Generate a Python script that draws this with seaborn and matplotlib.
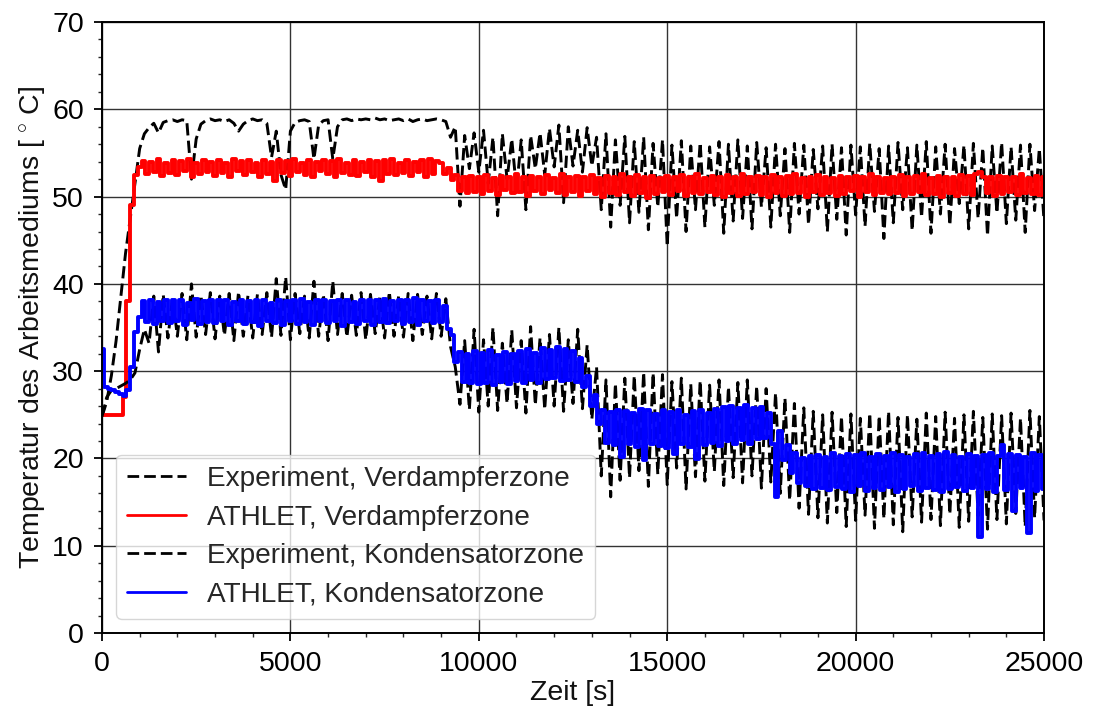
import numpy as np
import pandas as pd
import matplotlib
matplotlib.use("Agg")
import matplotlib.pyplot as plt
from matplotlib.ticker import MultipleLocator
import seaborn as sns

# ---------------- data ----------------
# Experiment series sampled every 125 s, ATHLET series every 100 s
t_exp_step = 125
t_sim_step = 100

exp_verdampfer = [
    24.8, 26.5, 29.5, 33.5, 38.5, 43.5, 47.5, 51.5,
    55.5, 57.2, 57.9, 58.4, 57.3, 58.5, 58.7, 58.8,
    58.6, 58.8, 58.7, 52.0, 56.6, 58.3, 58.7, 58.9,
    58.7, 58.8, 58.6, 58.8, 58.4, 57.5, 58.3, 58.7,
    58.9, 58.7, 58.8, 58.4, 54.5, 57.5, 52.5, 50.8,
    57.5, 58.5, 58.7, 58.8, 58.6, 54.3, 58.2, 58.7,
    58.8, 54.3, 58.0, 58.8, 58.9, 58.7, 58.9, 58.8,
    58.9, 58.8, 59.0, 58.8, 58.9, 58.7, 58.8, 58.9,
    58.7, 58.9, 58.6, 58.8, 58.9, 58.7, 58.8, 58.9,
    58.8, 58.6, 56.8, 58.0, 48.9, 57.0, 53.2, 57.3,
    52.8, 57.6, 51.5, 56.8, 47.8, 57.2, 52.0, 56.6,
    50.8, 56.5, 48.5, 57.0, 53.2, 57.3, 52.5, 57.8,
    53.4, 58.2, 49.3, 58.0, 53.5, 57.6, 52.8, 57.9,
    53.5, 56.8, 48.5, 57.2, 46.5, 56.5, 49.0, 56.9,
    47.0, 56.3, 48.2, 56.8, 46.2, 56.1, 48.8, 56.5,
    44.3, 55.9, 47.5, 56.4, 46.0, 55.8, 48.5, 56.2,
    46.5, 55.7, 49.0, 56.3, 45.8, 56.0, 47.2, 56.5,
    47.5, 55.8, 46.3, 56.2, 48.8, 55.6, 46.5, 56.0,
    47.8, 55.5, 45.9, 56.1, 48.0, 55.9, 46.8, 55.4,
    48.6, 55.8, 46.0, 56.0, 47.4, 55.6, 45.6, 55.9,
    47.9, 55.7, 46.6, 56.1, 48.3, 55.5, 45.2, 55.8,
    47.0, 56.2, 48.5, 55.6, 46.1, 55.9, 47.6, 56.3,
    45.8, 55.7, 48.0, 56.0, 46.7, 55.5, 49.2, 55.9,
    46.3, 56.1, 47.5, 55.6, 45.5, 55.8, 48.1, 56.2,
    46.9, 55.7, 47.3, 55.9, 45.9, 56.0, 48.4, 55.5,
    47.2,
]

exp_kondensator = [
    24.8, 27.0, 27.8, 28.0, 28.3, 28.6, 29.0, 29.8,
    32.5, 34.8, 33.2, 38.6, 32.2, 38.8, 33.8, 38.5,
    34.0, 38.9, 33.6, 40.0, 33.9, 38.7, 34.2, 39.0,
    33.7, 38.6, 34.1, 38.9, 33.5, 39.1, 34.0, 38.7,
    33.8, 38.8, 34.2, 39.0, 33.9, 40.6, 34.1, 40.8,
    33.6, 38.9, 34.3, 38.6, 33.8, 40.3, 34.0, 38.8,
    33.5, 40.3, 34.2, 38.9, 33.9, 38.7, 34.1, 39.0,
    33.6, 38.8, 34.3, 38.6, 33.8, 39.1, 34.0, 38.7,
    33.9, 38.9, 33.5, 38.8, 34.2, 38.6, 33.7, 38.9,
    34.0, 38.3, 32.8, 30.5, 26.2, 33.5, 25.6, 34.8,
    25.3, 33.6, 26.0, 35.0, 25.5, 33.2, 26.3, 34.7,
    25.8, 33.5, 25.2, 35.1, 26.1, 33.8, 25.6, 34.2,
    26.0, 35.0, 25.4, 33.6, 26.3, 34.8, 25.7, 33.0,
    24.5, 30.5, 18.0, 29.0, 15.6, 28.6, 17.5, 29.2,
    17.8, 29.5, 18.6, 29.9, 16.8, 29.8, 18.2, 29.6,
    17.0, 28.8, 18.9, 29.2, 16.5, 28.5, 17.9, 28.9,
    17.4, 28.4, 18.5, 29.0, 16.9, 28.2, 17.8, 28.7,
    17.2, 29.0, 18.0, 28.3, 16.6, 28.0, 17.3, 27.5,
    16.0, 26.9, 15.2, 26.3, 14.3, 25.8, 13.6, 25.4,
    13.2, 25.0, 12.6, 25.3, 13.8, 24.8, 12.2, 25.1,
    12.9, 24.6, 13.5, 25.2, 12.0, 24.9, 13.1, 25.4,
    12.4, 24.7, 11.6, 25.0, 13.3, 24.5, 12.7, 25.2,
    13.0, 24.8, 12.3, 25.3, 13.6, 24.6, 12.1, 25.0,
    12.8, 25.4, 13.4, 24.7, 11.9, 25.1, 13.0, 24.9,
    12.5, 25.2, 13.7, 24.6, 12.2, 25.5, 13.2, 24.8,
    12.9,
]

athlet_verdampfer = [
    25.0, 25.0, 25.0, 25.0, 25.0, 25.0, 27.0, 38.0, 49.0, 52.5,
    53.4, 54.1, 52.6, 54.0, 52.8, 54.3, 52.4, 53.9, 52.7, 54.2,
    52.5, 54.1, 52.9, 54.3, 52.3, 53.8, 52.6, 54.2, 52.8, 54.0,
    52.4, 54.2, 52.7, 53.9, 52.2, 54.3, 52.9, 54.1, 52.5, 54.2,
    52.8, 53.9, 52.3, 54.2, 52.6, 54.0, 51.8, 54.2, 52.7, 54.1,
    52.4, 54.3, 52.8, 53.8, 52.5, 54.2, 52.3, 54.0, 52.9, 54.2,
    52.6, 54.1, 52.2, 54.3, 52.7, 53.9, 52.5, 54.2, 52.4, 54.0,
    52.8, 54.2, 52.3, 54.1, 51.8, 54.2, 52.6, 54.3, 52.5, 53.9,
    52.7, 54.2, 52.4, 54.0, 52.8, 54.2, 52.2, 54.3, 52.6, 54.1,
    53.9, 52.6, 53.3, 51.9, 52.5, 50.6, 52.3, 50.4, 52.4, 50.5,
    52.2, 50.3, 52.5, 50.6, 52.1, 50.2, 52.4, 50.7, 52.3, 50.4,
    52.6, 50.5, 52.2, 50.1, 52.4, 50.6, 52.3, 50.3, 52.5, 50.7,
    52.1, 50.4, 52.6, 50.2, 52.3, 50.5, 52.4, 50.1, 52.2, 50.6,
    52.5, 50.3, 52.1, 49.9, 52.4, 50.4, 52.3, 50.2, 52.6, 50.5,
    52.2, 50.1, 52.5, 50.4, 52.3, 49.8, 52.4, 50.3, 52.1, 50.5,
    52.4, 50.2, 52.3, 50.6, 52.5, 50.1, 52.2, 50.4, 52.6, 50.3,
    52.1, 50.5, 52.4, 50.2, 52.3, 49.9, 52.5, 50.4, 52.2, 50.1,
    52.6, 50.3, 52.2, 50.5, 52.4, 50.2, 52.3, 50.0, 52.5, 50.4,
    52.2, 50.1, 52.4, 50.3, 52.6, 50.4, 52.1, 49.9, 52.3, 50.5,
    52.5, 50.2, 52.3, 50.4, 52.1, 50.1, 52.4, 50.3, 52.2, 50.6,
    52.4, 50.0, 52.2, 50.5, 52.6, 50.2, 52.3, 50.4, 52.1, 50.3,
    52.3, 50.4, 52.5, 50.1, 52.2, 50.3, 52.4, 50.5, 52.6, 50.2,
    52.1, 50.3, 52.4, 50.0, 52.3, 50.4, 52.2, 50.1, 52.5, 50.3,
    52.4, 50.2, 52.6, 52.8, 52.2, 50.4, 52.3, 50.1, 52.4, 50.3,
    52.2, 50.5, 52.3, 50.2, 52.6, 50.4, 52.1, 50.3, 52.4, 50.2,
    52.3,
]

athlet_kondensator = [
    32.5, 28.2, 28.0, 27.8, 27.6, 27.4, 27.2, 27.8, 30.5, 34.5,
    36.2, 38.0, 35.6, 38.1, 35.4, 37.9, 35.8, 38.2, 35.5, 38.1,
    35.7, 38.2, 35.3, 37.8, 35.9, 38.3, 35.4, 38.0, 35.6, 38.2,
    35.5, 38.1, 35.8, 38.2, 35.3, 37.9, 35.7, 38.2, 35.4, 38.0,
    35.6, 38.2, 35.2, 38.1, 35.8, 37.8, 35.5, 38.2, 35.3, 38.0,
    35.7, 38.2, 35.4, 38.3, 35.6, 37.9, 35.3, 38.1, 35.8, 38.2,
    35.5, 38.0, 35.7, 38.2, 35.2, 38.1, 35.6, 37.9, 35.4, 38.2,
    35.8, 38.1, 35.3, 38.2, 35.6, 38.3, 35.5, 38.0, 35.7, 38.2,
    35.4, 38.1, 35.6, 38.4, 35.3, 38.2, 35.8, 38.0, 35.5, 38.2,
    35.6, 37.5, 34.8, 34.2, 31.0, 32.2, 28.8, 32.0, 28.6, 32.3,
    28.5, 32.1, 28.7, 32.4, 28.4, 31.9, 28.8, 32.2, 28.5, 32.0,
    28.9, 32.3, 28.6, 32.5, 29.0, 32.1, 28.7, 32.6, 29.1, 32.4,
    29.2, 32.8, 28.9, 32.5, 29.0, 32.3, 28.8, 31.5, 28.2, 29.5,
    26.0, 27.3, 23.9, 25.6, 21.8, 25.3, 21.5, 25.6, 20.2, 25.4,
    21.6, 25.2, 21.3, 25.7, 19.8, 25.5, 21.7, 25.1, 21.4, 25.6,
    21.2, 25.3, 20.5, 25.5, 21.6, 25.0, 21.3, 25.4, 19.9, 25.6,
    21.5, 25.2, 21.8, 25.7, 21.4, 25.9, 22.0, 26.0, 21.6, 25.8,
    22.1, 26.1, 21.7, 25.8, 22.2, 25.9, 22.4, 25.2, 21.6, 15.6,
    23.2, 19.8, 21.5, 18.3, 20.6, 17.2, 20.1, 16.8, 20.3, 16.5,
    20.4, 16.6, 20.2, 16.4, 20.6, 16.7, 20.3, 16.5, 20.5, 16.2,
    20.4, 16.8, 20.6, 16.3, 20.2, 16.6, 20.5, 16.4, 20.3, 16.7,
    20.6, 16.1, 20.4, 16.5, 20.2, 16.8, 20.5, 16.3, 20.6, 16.6,
    20.3, 16.4, 20.5, 16.2, 20.7, 16.5, 20.4, 16.7, 20.2, 16.3,
    20.5, 16.6, 20.3, 11.0, 20.4, 16.5, 20.6, 16.2, 20.3, 21.5,
    16.4, 20.5, 14.0, 20.4, 16.6, 20.2, 11.5, 20.6, 16.3, 20.4,
    16.5,
]

labels = [
    "Experiment, Verdampferzone",
    "ATHLET, Verdampferzone",
    "Experiment, Kondensatorzone",
    "ATHLET, Kondensatorzone",
]
x_ticks = [0, 5000, 10000, 15000, 20000, 25000]
y_ticks = [0, 10, 20, 30, 40, 50, 60, 70]
x_label = "Zeit [s]"
y_label = "Temperatur des Arbeitsmediums [$\\,^\\circ\\,$C]"

# ---------------- style ----------------
sns.set_style("white")
plt.rcParams["font.family"] = ["Liberation Sans", "DejaVu Sans"]
plt.rcParams["mathtext.fontset"] = "custom"
plt.rcParams["mathtext.rm"] = "Liberation Sans"
plt.rcParams["mathtext.it"] = "Liberation Sans:italic"

t_exp = np.arange(len(exp_verdampfer)) * t_exp_step
t_sim = np.arange(len(athlet_verdampfer)) * t_sim_step

df_exp = pd.DataFrame({"t": t_exp, "verd": exp_verdampfer, "kond": exp_kondensator})
df_sim = pd.DataFrame({"t": t_sim, "verd": athlet_verdampfer, "kond": athlet_kondensator})

fig = plt.figure(figsize=(10.93, 7.20), dpi=100)
ax = fig.add_axes([0.0933, 0.1208, 0.8619, 0.8486])

dash = (0, (4.2, 1.8))
lw_exp = 2.1
lw_sim = 2.8
sns.lineplot(data=df_exp, x="t", y="verd", ax=ax, color="black", linestyle=dash,
             linewidth=lw_exp, estimator=None, sort=False, label=labels[0])
sns.lineplot(data=df_sim, x="t", y="verd", ax=ax, color="#ff0000", drawstyle="steps-mid",
             linewidth=lw_sim, estimator=None, sort=False, label=labels[1])
sns.lineplot(data=df_exp, x="t", y="kond", ax=ax, color="black", linestyle=dash,
             linewidth=lw_exp, estimator=None, sort=False, label=labels[2])
sns.lineplot(data=df_sim, x="t", y="kond", ax=ax, color="#0000ff", drawstyle="steps-mid",
             linewidth=lw_sim, estimator=None, sort=False, label=labels[3])

FS = 20.5
ax.set_xlim(x_ticks[0], x_ticks[-1])
ax.set_ylim(y_ticks[0], y_ticks[-1])
ax.set_xticks(x_ticks)
ax.set_yticks(y_ticks)
ax.xaxis.set_minor_locator(MultipleLocator(1000))
ax.yaxis.set_minor_locator(MultipleLocator(2))
ax.tick_params(which="major", direction="out", length=6, width=1.3, labelsize=FS,
               pad=7, bottom=True, left=True, top=False, right=False, colors="black")
ax.tick_params(which="minor", direction="out", length=3, width=1.0,
               bottom=True, left=True, top=False, right=False)
ax.grid(True, which="major", color="#333333", linewidth=1.0)
ax.set_axisbelow(True)
for s in ax.spines.values():
    s.set_color("black")
    s.set_linewidth(1.4)

ax.set_xlabel(x_label, fontsize=FS, labelpad=2, color="#111111")
ax.set_ylabel(y_label, fontsize=FS, labelpad=4, color="#111111")

leg = ax.legend(loc="lower left", fontsize=20.2, handlelength=2.1, handletextpad=0.75,
                labelspacing=0.45, borderaxespad=0.5, framealpha=0.8,
                edgecolor="#cccccc", fancybox=True)
for line in leg.get_lines():
    line.set_linewidth(2.0)

fig.savefig("out.png", dpi=100)
